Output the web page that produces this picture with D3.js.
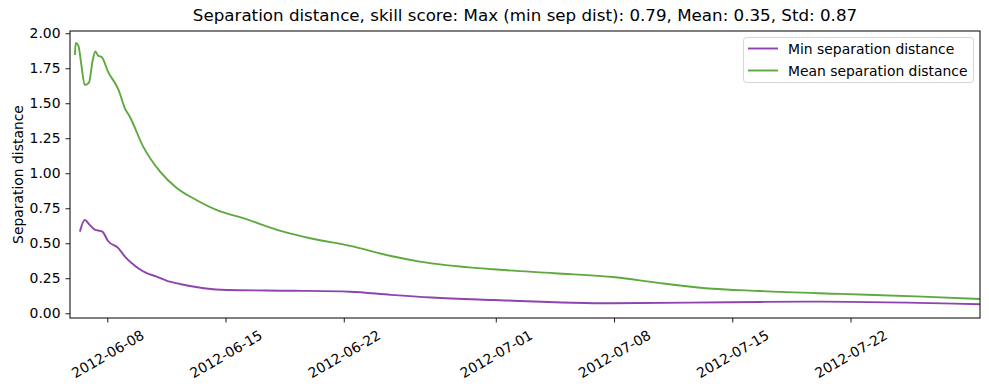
<!DOCTYPE html>
<html>
<head>
<meta charset="utf-8">
<script src="https://cdn.jsdelivr.net/npm/d3@7"></script>
<style>
  body { margin: 0; background: #fff; }
  svg { display: block; }
  svg text { font-family: "DejaVu Sans", sans-serif; }
</style>
</head>
<body>
<svg id="chart" width="989" height="390"></svg>
<script>
// ---- Data ----
const titleText = "Separation distance, skill score: Max (min sep dist): 0.79, Mean: 0.35, Std: 0.87";
const yLabel = "Separation distance";
const seriesNames = ["Min separation distance", "Mean separation distance"];
const seriesColors = ["#8e44ad", "#5ea83e"];

const minDates = [
  "2012-06-06T09:00", "2012-06-06T16:00", "2012-06-06T23:00", "2012-06-07T07:00",
  "2012-06-07T14:00", "2012-06-07T17:00", "2012-06-08T01:00", "2012-06-08T16:00",
  "2012-06-09T01:00", "2012-06-09T11:00", "2012-06-09T20:00", "2012-06-10T08:00",
  "2012-06-10T22:00", "2012-06-11T12:00", "2012-06-12T07:00", "2012-06-15T02:00",
  "2012-06-19T00:00", "2012-06-22T09:00", "2012-06-24T19:00", "2012-06-27T05:00",
  "2012-06-30T20:00", "2012-07-07T21:00", "2012-07-14T21:00", "2012-07-20T05:00",
  "2012-07-29T16:00"
];
const minValues = [
  0.583, 0.666, 0.631, 0.595,
  0.588, 0.583, 0.516, 0.464,
  0.405, 0.357, 0.321, 0.286,
  0.262, 0.233, 0.209, 0.166,
  0.161, 0.154, 0.131, 0.112,
  0.095, 0.071, 0.079, 0.083,
  0.064
];

const meanDates = [
  "2012-06-06T02:00", "2012-06-06T03:00", "2012-06-06T07:00", "2012-06-06T11:00",
  "2012-06-06T16:00", "2012-06-06T22:00", "2012-06-07T03:00", "2012-06-07T07:00",
  "2012-06-07T11:00", "2012-06-07T16:00", "2012-06-08T01:00", "2012-06-08T16:00",
  "2012-06-09T01:00", "2012-06-09T08:00", "2012-06-10T03:00", "2012-06-11T03:00",
  "2012-06-12T03:00", "2012-06-13T02:00", "2012-06-14T11:00", "2012-06-16T01:00",
  "2012-06-18T10:00", "2012-06-20T00:00", "2012-06-22T09:00", "2012-06-24T19:00",
  "2012-06-26T12:00", "2012-06-30T20:00", "2012-07-04T11:00", "2012-07-08T02:00",
  "2012-07-10T12:00", "2012-07-13T10:00", "2012-07-16T14:00", "2012-07-21T10:00",
  "2012-07-26T06:00", "2012-07-29T16:00"
];
const meanValues = [
  1.845, 1.93, 1.91, 1.78,
  1.63, 1.647, 1.80, 1.87,
  1.84, 1.83, 1.726, 1.595,
  1.464, 1.404, 1.19, 1.011,
  0.893, 0.821, 0.738, 0.679,
  0.583, 0.536, 0.481, 0.409,
  0.369, 0.314, 0.286, 0.257,
  0.219, 0.179, 0.159, 0.138,
  0.119, 0.102
];

const xDomain = ["2012-06-05T19:00", "2012-07-29T16:00"];
const yDomain = [-0.034, 2.016];
const xTickDates = ["2012-06-08", "2012-06-15", "2012-06-22", "2012-07-01", "2012-07-08", "2012-07-15", "2012-07-22"];
const yTickValues = [0, 0.25, 0.5, 0.75, 1.0, 1.25, 1.5, 1.75, 2.0];

// ---- Layout ----
const parse = d3.isoParse;
const FONT = "DejaVu Sans, sans-serif";
const svg = d3.select("#chart");
const m = { left: 70, right: 9, top: 31, bottom: 72 };
const W = 989, H = 390;
const pw = W - m.left - m.right, ph = H - m.top - m.bottom;

const x = d3.scaleTime().domain(xDomain.map(s => parse(s))).range([m.left, m.left + pw]);
const y = d3.scaleLinear().domain(yDomain).range([m.top + ph, m.top]);

svg.append("clipPath").attr("id", "clip")
  .append("rect").attr("x", m.left).attr("y", m.top).attr("width", pw).attr("height", ph);

const line = d3.line().x(d => x(d[0])).y(d => y(d[1])).curve(d3.curveMonotoneX);

const minData = minDates.map((d, i) => [parse(d), minValues[i]]);
const meanData = meanDates.map((d, i) => [parse(d), meanValues[i]]);

const g = svg.append("g").attr("clip-path", "url(#clip)");
g.append("path").datum(minData).attr("d", line)
  .attr("fill", "none").attr("stroke", seriesColors[0]).attr("stroke-width", 1.9)
  .attr("stroke-linejoin", "round");
g.append("path").datum(meanData).attr("d", line)
  .attr("fill", "none").attr("stroke", seriesColors[1]).attr("stroke-width", 1.9)
  .attr("stroke-linejoin", "round");

// Axes
const xAxis = d3.axisBottom(x).tickValues(xTickDates.map(s => parse(s)))
  .tickFormat(d3.timeFormat("%Y-%m-%d")).tickSize(4.5).tickPadding(4);
const xg = svg.append("g").attr("transform", `translate(0,${m.top + ph})`).call(xAxis)
  .attr("font-family", FONT).attr("font-size", 13.9);
xg.select(".domain").remove();
xg.selectAll(".tick line").attr("stroke", "#000").attr("stroke-width", 0.9);
xg.selectAll(".tick text")
  .attr("fill", "#000")
  .attr("text-anchor", "middle").attr("dy", null)
  .attr("dominant-baseline", "central")
  .attr("y", 0)
  .attr("transform", "translate(0,36) rotate(-30)");

const yAxis = d3.axisLeft(y).tickValues(yTickValues).tickFormat(d3.format(".2f")).tickSize(4.5).tickPadding(5);
const yg = svg.append("g").attr("transform", `translate(${m.left},0)`).call(yAxis)
  .attr("font-family", FONT).attr("font-size", 13.9);
yg.select(".domain").remove();
yg.selectAll(".tick line").attr("stroke", "#000").attr("stroke-width", 0.9);
yg.selectAll(".tick text").attr("fill", "#000");

// Frame
svg.append("rect").attr("x", m.left).attr("y", m.top).attr("width", pw).attr("height", ph)
  .attr("fill", "none").attr("stroke", "#000").attr("stroke-width", 1);

// Title
svg.append("text").attr("x", m.left + pw / 2).attr("y", 21).attr("text-anchor", "middle")
  .attr("font-size", 16.7).attr("fill", "#000").text(titleText);

// Y label
svg.append("text")
  .attr("transform", `translate(23,${m.top + ph / 2}) rotate(-90)`)
  .attr("text-anchor", "middle").attr("font-size", 13.9).attr("fill", "#000").text(yLabel);

// Legend
const lg = svg.append("g");
lg.append("rect").attr("x", 743.5).attr("y", 37.5).attr("width", 230).attr("height", 45)
  .attr("rx", 3).attr("fill", "#fff").attr("fill-opacity", 0.8)
  .attr("stroke", "#d6d6d6").attr("stroke-width", 1);
seriesNames.forEach((name, i) => {
  const yy = 48.5 + i * 22;
  lg.append("line").attr("x1", 748).attr("x2", 778).attr("y1", yy).attr("y2", yy)
    .attr("stroke", seriesColors[i]).attr("stroke-width", 1.9);
  lg.append("text").attr("x", 788).attr("y", yy).attr("dominant-baseline", "central")
    .attr("font-size", 13.9).attr("fill", "#000").text(name);
});
</script>
</body>
</html>
